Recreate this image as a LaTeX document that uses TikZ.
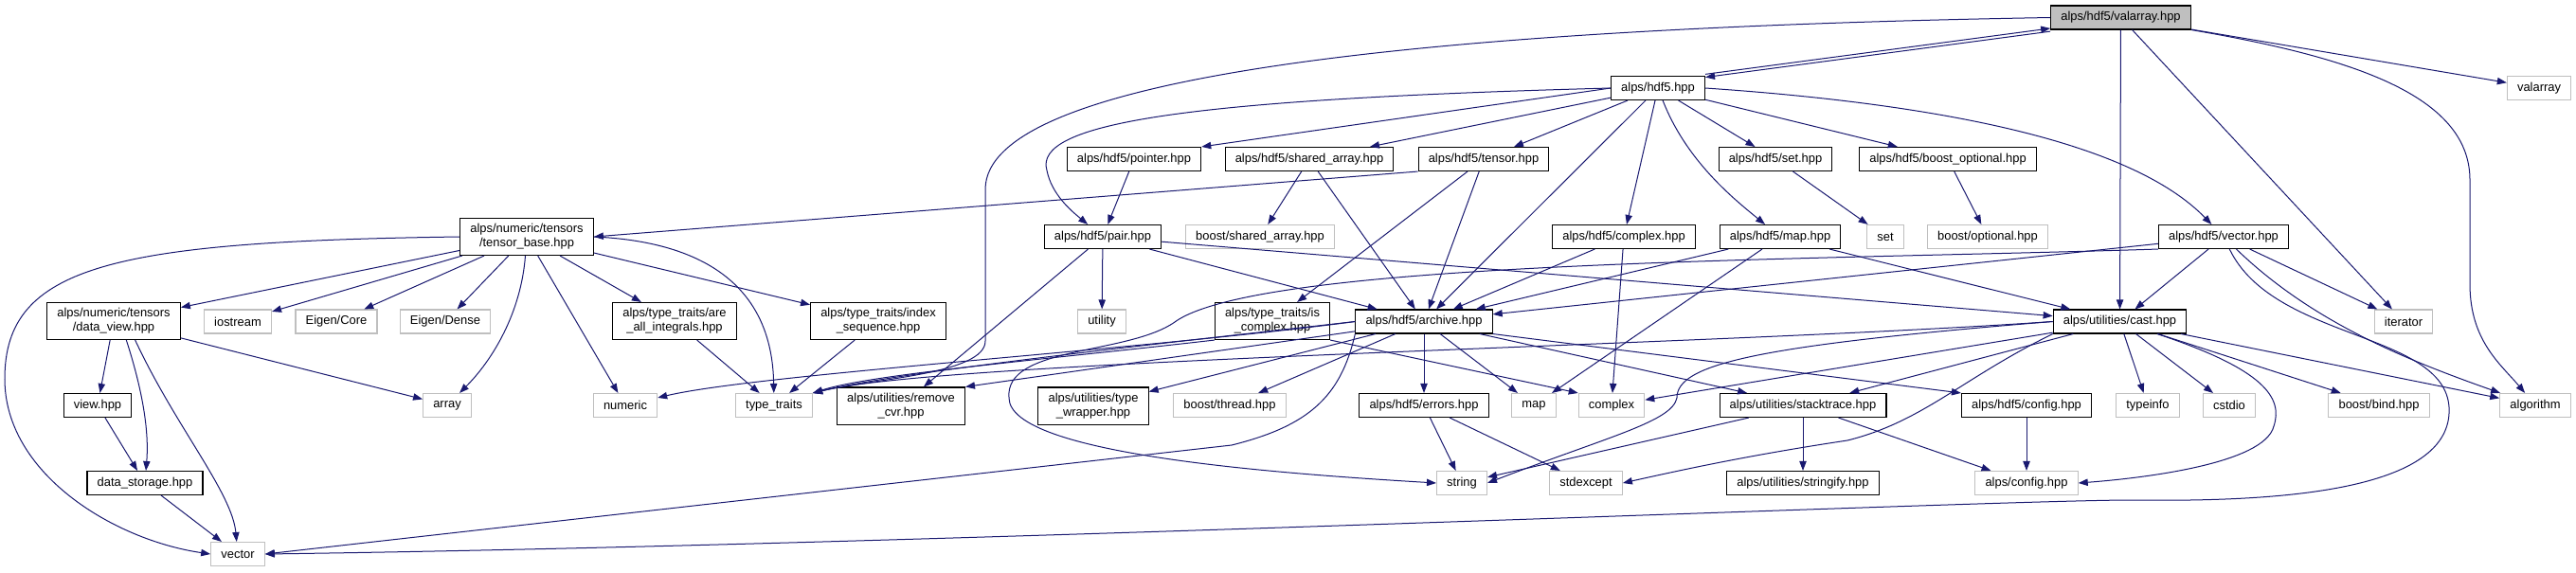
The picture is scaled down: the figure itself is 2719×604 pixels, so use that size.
\documentclass[tikz,border=0pt]{standalone}
\usepackage{fontspec}
\setmainfont{Liberation Sans}
\usetikzlibrary{arrows.meta}

\definecolor{edgeblue}{HTML}{191970}
\definecolor{grey75}{HTML}{BFBFBF}

\tikzset{
  hdr/.style={draw=black, fill=white, line width=0.8pt, inner xsep=8pt, inner ysep=4.5pt,
    minimum height=18.75pt, align=center, font=\fontsize{9.7}{11.25}\selectfont},
  ext/.style={hdr, draw=grey75},
  cur/.style={hdr, fill=grey75},
  dep/.style={draw=edgeblue, line width=0.75pt, -{Triangle[length=7.5pt,width=5.5pt]}},
}

\begin{document}
\begin{tikzpicture}[x=0.75pt, y=-0.75pt]
  \fill[white] (0,0) rectangle (2719,604);
  \useasboundingbox (0,0) rectangle (2719,604);
  % rows, top to bottom
  \node[cur] (V) at (2238.5,18.5) {alps/hdf5/valarray.hpp};
  \node[hdr] (H) at (1750,93) {alps/hdf5.hpp};
  \node[ext] (valarray) at (2680,93) {valarray};
  \node[hdr] (ptr) at (1197,168) {alps/hdf5/pointer.hpp};
  \node[hdr] (sarr) at (1382,168) {alps/hdf5/shared\_array.hpp};
  \node[hdr] (tens) at (1566,168) {alps/hdf5/tensor.hpp};
  \node[hdr] (hset) at (1874,168) {alps/hdf5/set.hpp};
  \node[hdr] (bopt) at (2056,168) {alps/hdf5/boost\_optional.hpp};
  \node[hdr] (tbase) at (556,250) {alps/numeric/tensors\\/tensor\_base.hpp};
  \node[hdr] (pair) at (1164,250) {alps/hdf5/pair.hpp};
  \node[ext] (bsarr) at (1330,250) {boost/shared\_array.hpp};
  \node[hdr] (hcplx) at (1714,250) {alps/hdf5/complex.hpp};
  \node[hdr] (hmap) at (1879,250) {alps/hdf5/map.hpp};
  \node[ext] (set) at (1990,250) {set};
  \node[ext] (boptional) at (2098,250) {boost/optional.hpp};
  \node[hdr] (hvec) at (2347,250) {alps/hdf5/vector.hpp};
  \node[hdr] (dview) at (120,339) {alps/numeric/tensors\\/data\_view.hpp};
  \node[ext] (iostream) at (251,339.5) {iostream};
  \node[ext] (ecore) at (355,339.5) {Eigen/Core};
  \node[ext] (edense) at (470,339.5) {Eigen/Dense};
  \node[hdr] (areall) at (712,339) {alps/type\_traits/are\\\_all\_integrals.hpp};
  \node[hdr] (idxseq) at (927,339) {alps/type\_traits/index\\\_sequence.hpp};
  \node[ext] (utility) at (1163,339.5) {utility};
  \node[hdr] (iscplx) at (1343,339) {alps/type\_traits/is\\\_complex.hpp};
  \node[hdr] (arch) at (1503,339.5) {alps/hdf5/archive.hpp};
  \node[hdr] (cast) at (2237.5,339.5) {alps/utilities/cast.hpp};
  \node[ext] (iterator) at (2537,339.5) {iterator};
  \node[hdr] (view) at (103,428) {view.hpp};
  \node[ext] (array) at (472,428) {array};
  \node[ext] (numeric) at (660,428) {numeric};
  \node[ext] (ttraits) at (817,428) {type\_traits};
  \node[hdr] (rmcvr) at (951,428.5) {alps/utilities/remove\\\_cvr.hpp};
  \node[hdr] (twrap) at (1154,428.5) {alps/utilities/type\\\_wrapper.hpp};
  \node[ext] (bthread) at (1298,428) {boost/thread.hpp};
  \node[hdr] (errors) at (1503,428) {alps/hdf5/errors.hpp};
  \node[ext] (map) at (1619,428) {map};
  \node[ext] (complex) at (1701,428) {complex};
  \node[hdr] (stack) at (1903,428) {alps/utilities/stacktrace.hpp};
  \node[hdr] (hconf) at (2139,428) {alps/hdf5/config.hpp};
  \node[ext] (typeinfo) at (2267,428) {typeinfo};
  \node[ext] (cstdio) at (2353,428) {cstdio};
  \node[ext] (bbind) at (2511,428) {boost/bind.hpp};
  \node[ext] (algorithm) at (2676,428) {algorithm};
  \node[hdr] (dstore) at (153,510) {data\_storage.hpp};
  \node[ext] (string) at (1543,510) {string};
  \node[ext] (stdexcept) at (1674,510) {stdexcept};
  \node[hdr] (strfy) at (1903,510) {alps/utilities/stringify.hpp};
  \node[ext] (aconf) at (2139,510) {alps/config.hpp};
  \node[ext] (vector) at (251,585) {vector};
  % valarray.hpp
  \draw[dep] ([yshift=-1.2pt]V.south west) -- ([yshift=-1.2pt]H.north east);
  \draw[dep] ([yshift=1.2pt]H.north east) -- ([yshift=1.2pt]V.south west);
  \draw[dep] (V) -- (valarray);
  \draw[dep] (V) -- (cast);
  \draw[dep] (V) -- (iterator);
  \draw[dep] (V.south east) .. controls (2480,60) and (2607,100) .. (2607,190) -- (2607,300) .. controls (2607,360) and (2640,385) .. (algorithm);
  \draw[dep] (V.west) .. controls (1500,30) and (1040,80) .. (1040,200) -- (1040,360) .. controls (1040,395) and (920,400) .. (ttraits.north east);
  % hdf5.hpp
  \draw[dep] (H.west) .. controls (1250,105) and (1090,130) .. (1105,180) .. controls (1110,205) and (1130,222) .. (pair);
  \draw[dep] (H.west) -- (ptr.north east);
  \draw[dep] (H) -- (sarr);
  \draw[dep] (H) -- (tens);
  \draw[dep] (H) -- (arch);
  \draw[dep] (H) -- (hcplx);
  \draw[dep] (H) .. controls (1780,170) and (1830,210) .. (hmap);
  \draw[dep] (H) -- (hset);
  \draw[dep] (H) -- (bopt);
  \draw[dep] (H.east) .. controls (2050,110) and (2250,150) .. (hvec);
  \draw[dep] (ptr) -- (pair);
  \draw[dep] (sarr) -- (bsarr);
  \draw[dep] (sarr) -- (arch);
  \draw[dep] (tens.south west) -- (tbase.east);
  \draw[dep] (tens) -- (iscplx);
  \draw[dep] (tens) -- (arch);
  \draw[dep] (hset) -- (set);
  \draw[dep] (bopt) -- (boptional);
  % tensor_base.hpp
  \draw[dep] (tbase) -- (dview);
  \draw[dep] (tbase) -- (iostream);
  \draw[dep] (tbase) -- (ecore);
  \draw[dep] (tbase) -- (edense);
  \draw[dep] (tbase) .. controls (550,330) and (520,380) .. (array);
  \draw[dep] (tbase) -- (numeric);
  \draw[dep] (tbase) -- (areall);
  \draw[dep] (tbase) -- (idxseq);
  \draw[dep] (tbase.east) .. controls (740,255) and (815,300) .. (ttraits);
  \draw[dep] (tbase.west) .. controls (120,255) and (5,280) .. (5,400) .. controls (5,500) and (120,570) .. (vector.west);
  \draw[dep] (dview) -- (view);
  \draw[dep] ([xshift=10pt]dview.south) .. controls (153,420) and (157,460) .. (dstore);
  \draw[dep] ([xshift=17pt]dview.south) .. controls (185,450) and (245,520) .. (vector);
  \draw[dep] (dview) -- (array);
  \draw[dep] (view) -- (dstore);
  \draw[dep] (dstore) -- (vector);
  \draw[dep] (areall) -- (ttraits);
  \draw[dep] (idxseq) -- (ttraits);
  \draw[dep] (iscplx.south west) .. controls (1100,380) and (920,395) .. (ttraits.north east);
  \draw[dep] (iscplx.south east) -- (complex.north west);
  % pair.hpp
  \draw[dep] (pair) -- (utility);
  \draw[dep] (pair) -- (rmcvr);
  \draw[dep] (pair) -- (arch);
  \draw[dep] (pair) -- (cast);
  % archive.hpp
  \draw[dep] (arch.west) .. controls (1200,370) and (800,395) .. (numeric);
  \draw[dep] (arch.west) .. controls (1250,360) and (950,392) .. (ttraits.north east);
  \draw[dep] (arch) -- (rmcvr.north east);
  \draw[dep] (arch) -- (twrap);
  \draw[dep] (arch) -- (bthread);
  \draw[dep] (arch) -- (errors);
  \draw[dep] (arch) -- (map);
  \draw[dep] (arch) -- (stack);
  \draw[dep] (arch.south east) -- (hconf.north west);
  \draw[dep] (arch.south west) .. controls (1415,420) and (1380,450) .. (1300,470) -- (vector.east);
  % complex.hpp, map.hpp, vector.hpp
  \draw[dep] (hcplx) -- (arch);
  \draw[dep] (hcplx) -- (complex);
  \draw[dep] (hmap) -- (arch);
  \draw[dep] (hmap) -- (map);
  \draw[dep] (hmap) -- (cast);
  \draw[dep] (hvec) -- (arch);
  \draw[dep] (hvec) -- (cast);
  \draw[dep] (hvec) -- (iterator);
  \draw[dep] (hvec) .. controls (2440,340) and (2540,380) .. (algorithm);
  \draw[dep] (hvec.south west) .. controls (1900,275) and (1330,275) .. (1240,340) .. controls (1190,375) and (1060,365) .. (1065,420) .. controls (1065,480) and (1350,500) .. (string.west);
  \draw[dep] (hvec) .. controls (2400,360) and (2580,350) .. (2585,430) .. controls (2590,520) and (2400,530) .. (2250,528) .. controls (2100,528) and (1000,575) .. (vector.east);
  % cast.hpp
  \draw[dep] (cast.west) .. controls (1800,365) and (1000,380) .. (ttraits.north east);
  \draw[dep] (cast) -- (complex);
  \draw[dep] (cast.west) .. controls (1850,365) and (1770,385) .. (1770,420) .. controls (1765,445) and (1700,460) .. (string.east);
  \draw[dep] (cast.south west) .. controls (2070,400) and (2030,445) .. (1950,465) .. controls (1850,480) and (1780,495) .. (stdexcept.east);
  \draw[dep] (cast) -- (stack);
  \draw[dep] (cast) -- (typeinfo);
  \draw[dep] (cast) -- (cstdio);
  \draw[dep] (cast) .. controls (2390,390) and (2410,420) .. (2400,450) .. controls (2390,490) and (2260,505) .. (aconf.east);
  \draw[dep] (cast) -- (bbind);
  \draw[dep] (cast) -- (algorithm);
  % bottom rows
  \draw[dep] (errors) -- (string);
  \draw[dep] (errors) -- (stdexcept);
  \draw[dep] (stack) -- (string);
  \draw[dep] (stack) -- (strfy);
  \draw[dep] (stack) -- (aconf);
  \draw[dep] (hconf) -- (aconf);
\end{tikzpicture}
\end{document}
